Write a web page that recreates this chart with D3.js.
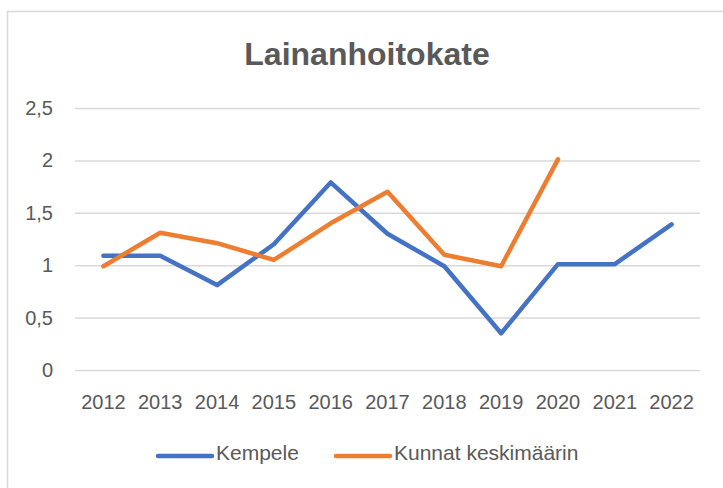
<!DOCTYPE html>
<html>
<head>
<meta charset="utf-8">
<script src="https://cdn.jsdelivr.net/npm/d3@7"></script>
<style>
  body { margin: 0; background: #fff; }
  svg { display: block; }
  text { font-family: "Liberation Sans", Arial, sans-serif; fill: #595959; }
</style>
</head>
<body>
<svg id="chart" width="723" height="488"></svg>
<script>
// data
var years = ["2012","2013","2014","2015","2016","2017","2018","2019","2020","2021","2022"];
var kempele = [1.09, 1.09, 0.81, 1.20, 1.79, 1.30, 0.99, 0.35, 1.01, 1.01, 1.39];
var kunnat = [0.99, 1.31, 1.21, 1.05, 1.40, 1.70, 1.10, 0.99, 2.01, null, null];
var yTicks = [0, 0.5, 1, 1.5, 2, 2.5];
var seriesNames = ["Kempele", "Kunnat keskimäärin"];
var colors = ["#4472C4", "#ED7D31"];

var svg = d3.select("#chart");

// chart frame
svg.append("rect")
	.attr("x", 7.5).attr("y", 11.5)
	.attr("width", 740).attr("height", 500)
	.attr("fill", "none")
	.attr("stroke", "#d9d9d9")
	.attr("stroke-width", 1.5);

svg.append("text")
	.attr("x", 367).attr("y", 65)
	.attr("text-anchor", "middle")
	.style("font-size", "32px")
	.style("font-weight", "bold")
	.text("Lainanhoitokate");

var plotLeft = 75, plotRight = 700, plotTop = 108, plotBottom = 370;

var xScale = d3.scalePoint()
	.domain(years)
	.range([plotLeft, plotRight])
	.padding(0.5);
var yScale = d3.scaleLinear()
	.domain([0, 2.5])
	.range([plotBottom, plotTop]);

var fmt = function(d){ return String(d).replace(".", ","); };

// gridlines
svg.append("g")
	.attr("transform", "translate(" + plotLeft + ",0)")
	.call(d3.axisLeft(yScale).tickValues(yTicks).tickSize(-(plotRight - plotLeft)).tickFormat(""))
	.call(function(g){ g.select(".domain").remove(); })
	.selectAll("line")
	.attr("stroke", "#d9d9d9")
	.attr("stroke-width", 1.5);

// y labels
svg.selectAll("text.ylab")
	.data(yTicks)
	.enter().append("text")
	.attr("class", "ylab")
	.attr("x", 53)
	.attr("y", function(d){ return yScale(d); })
	.attr("dy", "0.35em")
	.attr("text-anchor", "end")
	.style("font-size", "20px")
	.text(fmt);

// x labels
svg.selectAll("text.xlab")
	.data(years)
	.enter().append("text")
	.attr("class", "xlab")
	.attr("x", function(d){ return xScale(d); })
	.attr("y", 409)
	.attr("text-anchor", "middle")
	.style("font-size", "20px")
	.text(function(d){ return d; });

var line = d3.line()
	.defined(function(d){ return d != null; })
	.x(function(d, i){ return xScale(years[i]); })
	.y(function(d){ return yScale(d); });

[kempele, kunnat].forEach(function(s, i){
	svg.append("path")
		.attr("d", line(s))
		.attr("fill", "none")
		.attr("stroke", colors[i])
		.attr("stroke-width", 4.5)
		.attr("stroke-linejoin", "round")
		.attr("stroke-linecap", "round");
});

// legend
var legendX = [158, 336];
seriesNames.forEach(function(name, i){
	svg.append("line")
		.attr("x1", legendX[i]).attr("x2", legendX[i] + 54)
		.attr("y1", 456).attr("y2", 456)
		.attr("stroke", colors[i])
		.attr("stroke-width", 4.5)
		.attr("stroke-linecap", "round");
	svg.append("text")
		.attr("x", legendX[i] + 58)
		.attr("y", 453)
		.attr("dy", "0.35em")
		.style("font-size", "21px")
		.text(name);
});
</script>
</body>
</html>
